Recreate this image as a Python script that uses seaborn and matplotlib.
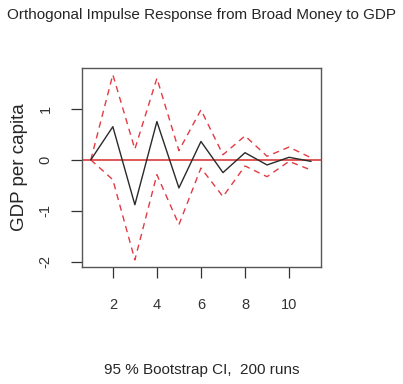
import numpy as np
import pandas as pd
import matplotlib
matplotlib.use("Agg")
import matplotlib.pyplot as plt
import seaborn as sns

# Impulse response values
horizon = [1, 2, 3, 4, 5, 6, 7, 8, 9, 10, 11]
irf = [0.0, 0.65, -0.88, 0.75, -0.55, 0.36, -0.25, 0.14, -0.10, 0.05, -0.03]
upper = [0.0, 1.67, 0.21, 1.60, 0.18, 0.98, 0.10, 0.47, 0.07, 0.25, 0.04]
lower = [0.0, -0.39, -1.96, -0.29, -1.27, -0.16, -0.72, -0.12, -0.33, -0.03, -0.20]

x_ticks = [2, 4, 6, 8, 10]
y_ticks = [-2, -1, 0, 1]

df = pd.DataFrame({"h": horizon, "irf": irf, "upper": upper, "lower": lower})

sns.set_style("white")
plt.rcParams["font.family"] = ["Liberation Sans", "DejaVu Sans"]

fig = plt.figure(figsize=(4.03, 3.84), dpi=100)
ax = fig.add_axes([82 / 403, 1 - 267 / 384, (321 - 82) / 403, (267 - 68) / 384])

ax.axhline(0, color="#e05858", lw=1.4, zorder=1)
sns.lineplot(data=df, x="h", y="irf", color="#2a2a2a", lw=1.0, ax=ax, zorder=3)
sns.lineplot(data=df, x="h", y="upper", color="#e33a44", lw=1.0, ax=ax,
             zorder=2).lines[-1].set_linestyle((0, (4.5, 3.5)))
sns.lineplot(data=df, x="h", y="lower", color="#e33a44", lw=1.0, ax=ax,
             zorder=2).lines[-1].set_linestyle((0, (4.5, 3.5)))

ax.set_xlim(0.6, 11.45)
ax.set_ylim(-2.1, 1.8)
ax.set_xticks(x_ticks)
ax.set_yticks(y_ticks)
ax.set_yticklabels([str(v) for v in y_ticks], rotation=90, va="center")
ax.tick_params(direction="out", length=8, width=0.9, colors="#333333",
               labelsize=10.5, left=True, bottom=True)
ax.tick_params(axis="x", pad=14)
ax.tick_params(axis="y", pad=13)
for s in ax.spines.values():
    s.set_color("#555555")
    s.set_linewidth(1.0)

ax.set_xlabel("95 % Bootstrap CI,  200 runs", fontsize=11, va="center")
ax.xaxis.set_label_coords(0.5, (267 - 370) / 199)
ax.set_ylabel("GDP per capita", fontsize=13.5, va="center")
ax.yaxis.set_label_coords((20 - 82) / 239, 1 - (167 - 68) / 199)
fig.text(202 / 403, 1 - 15 / 384, "Orthogonal Impulse Response from Broad Money to GDP",
         ha="center", va="center", fontsize=11)

fig.savefig("out.png", dpi=100, facecolor="white")
